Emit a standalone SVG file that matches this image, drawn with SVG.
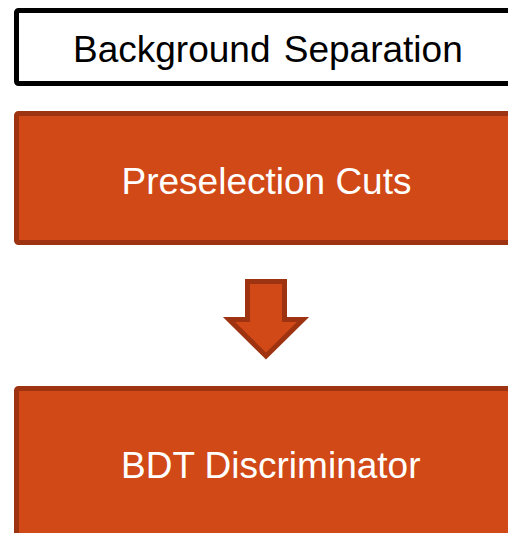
<svg xmlns="http://www.w3.org/2000/svg" width="508" height="533" viewBox="0 0 508 533">
<style>
.lbl{font-family:"Liberation Sans",Arial,sans-serif;font-size:37px}
.orange{fill:#D14916;stroke:#9E3311;stroke-width:5}
</style>
<rect width="508" height="533" fill="#ffffff"/>
<g id="background-separation">
<rect x="16.5" y="10.5" width="520" height="73" rx="2" fill="#ffffff" stroke="#000000" stroke-width="5"/>
<text class="lbl" x="73" y="62" fill="#000000" word-spacing="3">Background Separation</text>
</g>
<g id="preselection-cuts">
<rect class="orange" x="16.5" y="113.5" width="520" height="129" rx="2"/>
<text class="lbl" x="121.5" y="194" fill="#ffffff">Preselection Cuts</text>
</g>
<g id="connectors">
<polygon class="orange" points="247.5,281.5 284.5,281.5 284.5,319.5 303,319.5 266,356 229,319.5 247.5,319.5"/>
</g>
<g id="bdt-discriminator">
<rect class="orange" x="16.5" y="388.5" width="520" height="200" rx="2"/>
<text class="lbl" x="121" y="478" fill="#ffffff">BDT Discriminator</text>
</g>
</svg>
